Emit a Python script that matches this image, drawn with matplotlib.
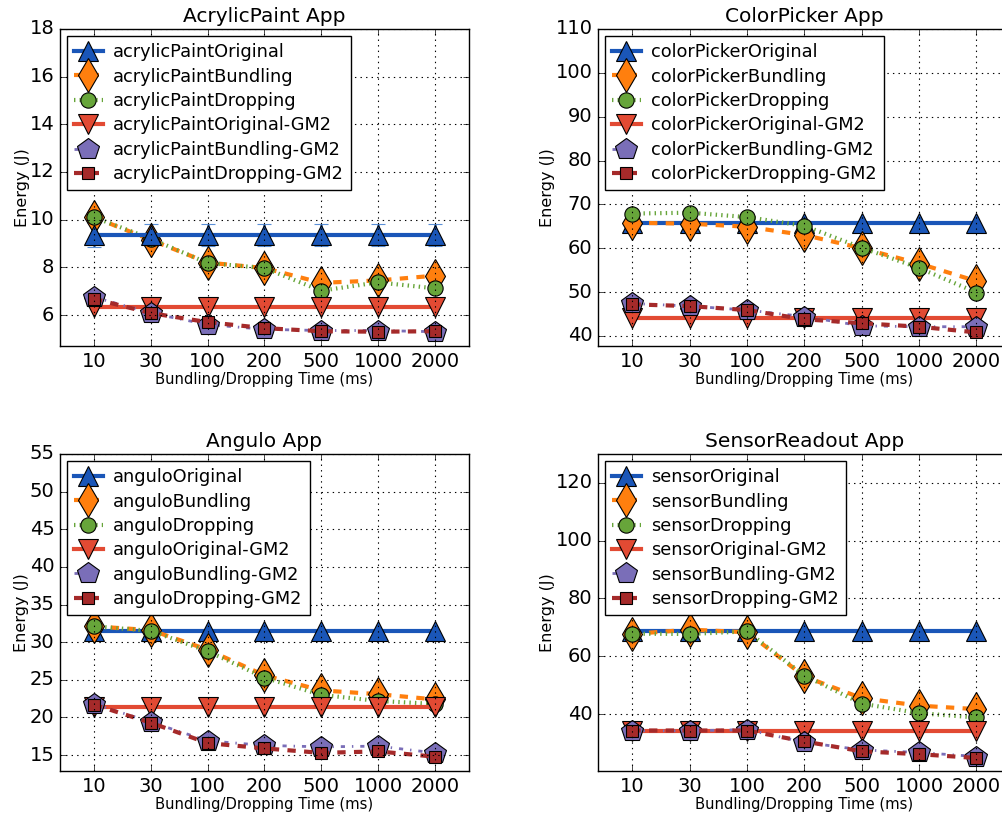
import matplotlib
matplotlib.use("Agg")
import matplotlib.pyplot as plt

plt.style.use("classic")

# x categories (bundling/dropping time in ms)
times = ["10", "30", "100", "200", "500", "1000", "2000"]
xpos = list(range(len(times)))

# AcrylicPaint
acrylic_original = [9.35, 9.35, 9.35, 9.35, 9.35, 9.35, 9.35]
acrylic_original_err = [0.5, 0.45, 0.45, 0.45, 0.45, 0.45, 0.45]
acrylic_bundling = [10.1, 9.15, 8.2, 7.97, 7.35, 7.45, 7.65]
acrylic_dropping = [10.1, 9.2, 8.18, 7.97, 7.02, 7.37, 7.12]
acrylic_original_gm2 = [6.34, 6.34, 6.34, 6.34, 6.34, 6.34, 6.34]
acrylic_bundling_gm2 = [6.75, 6.08, 5.6, 5.4, 5.35, 5.35, 5.3]
acrylic_dropping_gm2 = [6.68, 6.08, 5.7, 5.45, 5.32, 5.3, 5.32]

# ColorPicker
color_original = [65.8, 65.8, 65.8, 65.8, 65.8, 65.8, 65.8]
color_bundling = [65.8, 65.6, 64.9, 63.0, 60.0, 56.5, 52.5]
color_dropping = [67.9, 68.1, 67.1, 65.1, 60.1, 55.5, 49.9]
color_original_gm2 = [44.0, 44.0, 44.0, 44.0, 44.0, 44.0, 44.0]
color_bundling_gm2 = [47.4, 46.8, 45.9, 44.4, 42.3, 42.1, 42.1]
color_dropping_gm2 = [47.2, 46.8, 45.9, 43.8, 42.9, 42.1, 40.8]

# Angulo
angulo_original = [31.5, 31.5, 31.5, 31.5, 31.5, 31.5, 31.5]
angulo_bundling = [32.1, 31.6, 29.0, 25.6, 23.6, 23.1, 22.4]
angulo_dropping = [32.1, 31.5, 28.8, 25.3, 23.0, 22.2, 21.8]
angulo_original_gm2 = [21.4, 21.4, 21.4, 21.4, 21.4, 21.4, 21.4]
angulo_bundling_gm2 = [21.8, 19.4, 16.9, 16.3, 16.1, 16.2, 15.3]
angulo_dropping_gm2 = [21.7, 19.3, 16.6, 15.9, 15.3, 15.5, 14.8]

# SensorReadout
sensor_original = [68.6, 68.6, 68.6, 68.6, 68.6, 68.6, 68.6]
sensor_bundling = [67.7, 69.2, 68.3, 53.0, 45.5, 42.9, 41.7]
sensor_dropping = [67.8, 67.7, 68.6, 53.3, 43.6, 40.3, 38.8]
sensor_original_gm2 = [34.3, 34.3, 34.3, 34.3, 34.3, 34.3, 34.3]
sensor_bundling_gm2 = [34.2, 34.2, 34.6, 30.2, 27.6, 26.7, 25.3]
sensor_dropping_gm2 = [34.3, 34.3, 34.3, 30.5, 27.1, 26.1, 24.8]

styles = [
    dict(color="#1a56b8", ls="-", lw=3, marker="^", ms=15),
    dict(color="#ff7f0e", ls="--", lw=3, marker="d", ms=17),
    dict(color="#67a53a", ls=":", lw=3, marker="o", ms=11),
    dict(color="#e24a33", ls="-", lw=3, marker="v", ms=15),
    dict(color="#7a6eb8", ls="-.", lw=2, marker="p", ms=16),
    dict(color="#a52a2a", ls="--", lw=3, marker="s", ms=9),
]

panels = [
    ("AcrylicPaint App", "acrylicPaint",
     [acrylic_original, acrylic_bundling, acrylic_dropping,
      acrylic_original_gm2, acrylic_bundling_gm2, acrylic_dropping_gm2],
     (4.7, 18), [6, 8, 10, 12, 14, 16, 18]),
    ("ColorPicker App", "colorPicker",
     [color_original, color_bundling, color_dropping,
      color_original_gm2, color_bundling_gm2, color_dropping_gm2],
     (37.7, 110), [40, 50, 60, 70, 80, 90, 100, 110]),
    ("Angulo App", "angulo",
     [angulo_original, angulo_bundling, angulo_dropping,
      angulo_original_gm2, angulo_bundling_gm2, angulo_dropping_gm2],
     (12.9, 55), [15, 20, 25, 30, 35, 40, 45, 50, 55]),
    ("SensorReadout App", "sensor",
     [sensor_original, sensor_bundling, sensor_dropping,
      sensor_original_gm2, sensor_bundling_gm2, sensor_dropping_gm2],
     (20.3, 130), [40, 60, 80, 100, 120]),
]
suffixes = ["Original", "Bundling", "Dropping",
            "Original-GM2", "Bundling-GM2", "Dropping-GM2"]

positions = [
    [0.0599, 0.5744, 0.408, 0.39],
    [0.5968, 0.5744, 0.412, 0.39],
    [0.0599, 0.0517, 0.408, 0.39],
    [0.5968, 0.0517, 0.412, 0.39],
]

fig = plt.figure(figsize=(10.02, 8.13), dpi=100, facecolor="white")

for i, (title, prefix, series, ylim, yticks) in enumerate(panels):
    ax = fig.add_axes(positions[i])
    handles = []
    labels = []
    for j, (vals, st) in enumerate(zip(series, styles)):
        label = prefix + suffixes[j]
        if i == 0 and j == 0:
            h = ax.errorbar(xpos, vals, yerr=acrylic_original_err, color=st["color"],
                            ls=st["ls"], lw=st["lw"], marker=st["marker"], ms=st["ms"],
                            mec="black", mew=0.8, ecolor="#5a8fd6", elinewidth=2,
                            capsize=5, capthick=2)
            h = h[0]
        else:
            h, = ax.plot(xpos, vals, color=st["color"], ls=st["ls"], lw=st["lw"],
                         marker=st["marker"], ms=st["ms"], mec="black", mew=0.8)
        handles.append(h)
        labels.append(label)
    ax.set_xlim(-0.6, 6.6)
    ax.set_ylim(*ylim)
    ax.set_yticks(yticks)
    ax.set_xticks(xpos)
    ax.set_xticklabels(times)
    ax.tick_params(labelsize=14)
    ax.grid(True, color="black", ls=":", lw=0.8)
    ax.set_title(title, fontsize=14.5)
    ax.set_xlabel("Bundling/Dropping Time (ms)", fontsize=10.6, labelpad=1)
    ax.set_ylabel("Energy (J)", fontsize=11.5, labelpad=0)
    ax.legend(handles, labels, loc="upper left", numpoints=1, fontsize=12.8,
              fancybox=False, borderaxespad=0.4, handlelength=1.6,
              handletextpad=0.6, labelspacing=0.36)

fig.savefig("out.png", dpi=100, facecolor="white")
